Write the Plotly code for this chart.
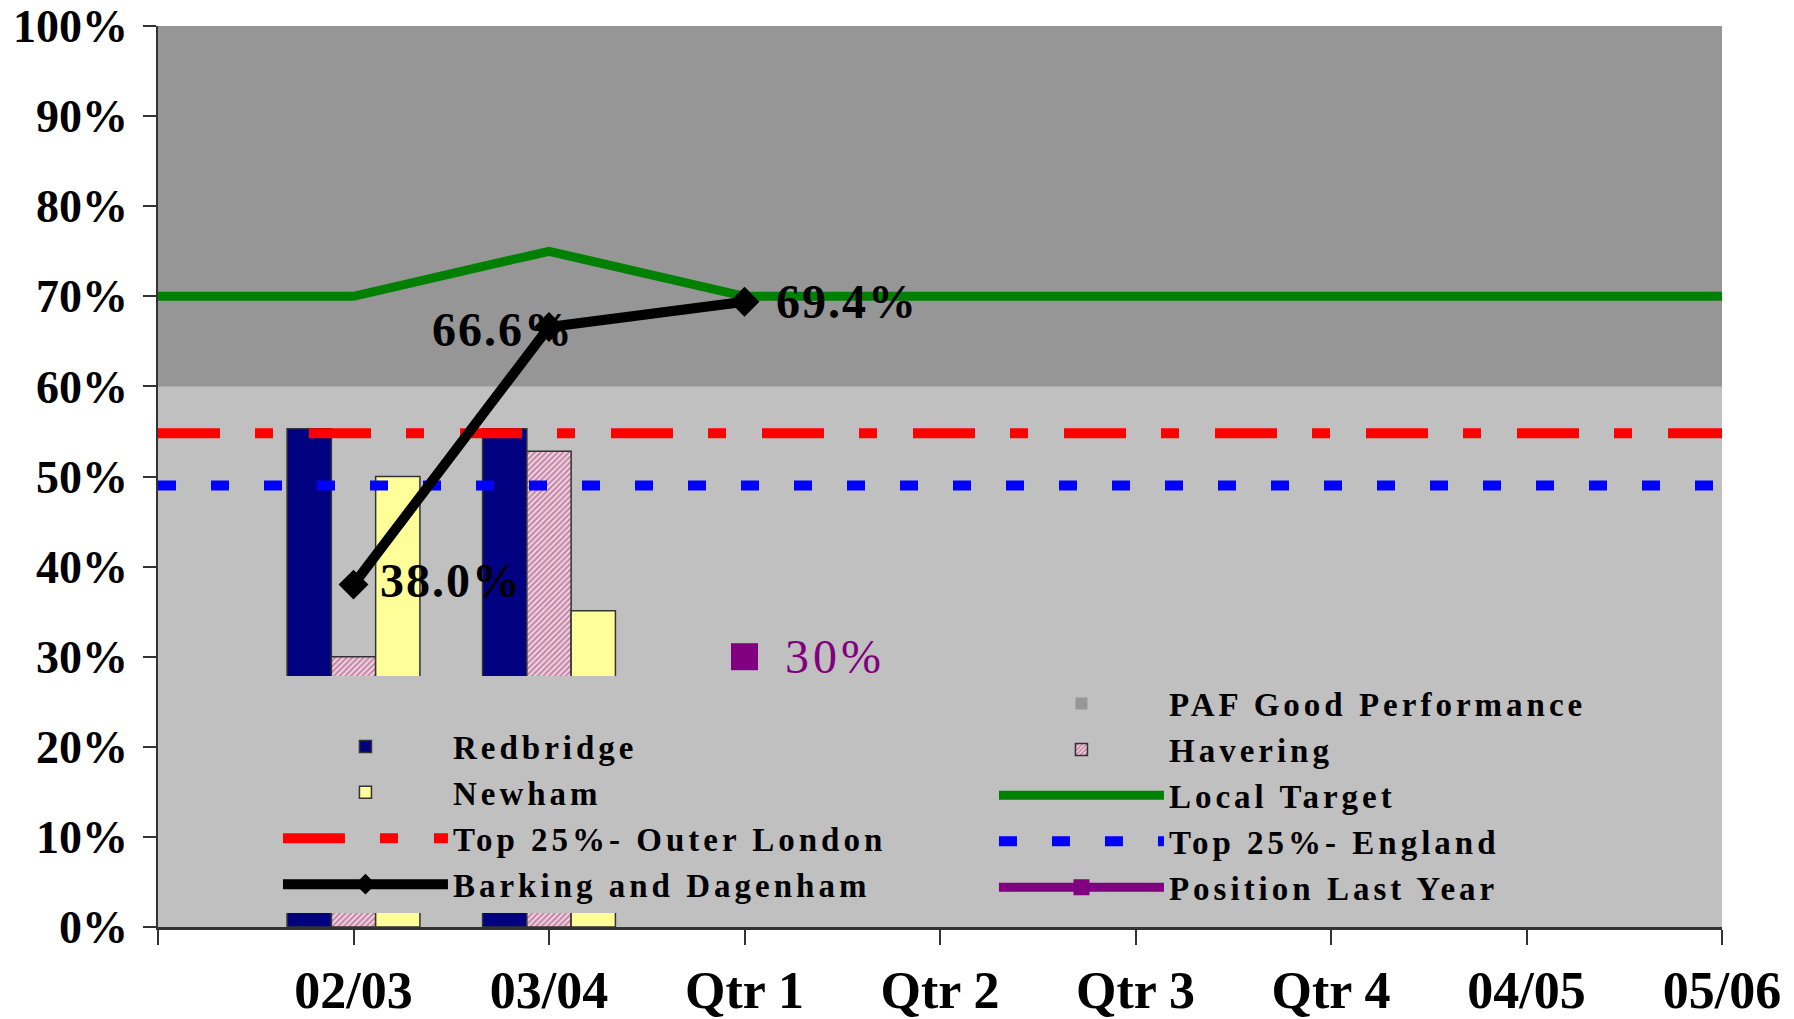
"""Barking and Dagenham indicator against neighbours, targets and PAF band."""

import plotly.graph_objects as go

# ---- data ----
periods = ["", "02/03", "03/04", "Qtr 1", "Qtr 2", "Qtr 3", "Qtr 4", "04/05", "05/06"]

redbridge = [None, 0.553, 0.553, None, None, None, None, None, None]
havering = [None, 0.300, 0.528, None, None, None, None, None, None]
newham = [None, 0.500, 0.351, None, None, None, None, None, None]

local_target = [0.70, 0.70, 0.75, 0.70, 0.70, 0.70, 0.70, 0.70, 0.70]
top25_outer_london = [0.548, 0.548, 0.548, 0.548, 0.548, 0.548, 0.548, 0.548, 0.548]
top25_england = [0.490, 0.490, 0.490, 0.490, 0.490, 0.490, 0.490, 0.490, 0.490]
barking = [None, 0.380, 0.666, 0.694, None, None, None, None, None]
last_year = [None, None, None, 0.30, None, None, None, None, None]

paf_low = 0.60
paf_high = 1.00

FONT = "Liberation Serif, Times New Roman, serif"
x = list(range(len(periods)))


def spaced(s, px=4):
    """Wide tracking like the original legend text."""
    return "<span style='letter-spacing:%dpx'>%s</span>" % (px, s)


fig = go.Figure()

# PAF good performance band (drawn first so it sits under the bars)
fig.add_trace(go.Bar(
    x=[(len(periods) - 1) / 2], y=[paf_high - paf_low], base=[paf_low],
    width=[len(periods) - 1],
    marker=dict(color="#969696", line=dict(width=0)),
    name=spaced("PAF Good Performance"), legend="legend2", legendgroup="paf",
    hoverinfo="skip"
))

bar_w = 0.2265
fig.add_trace(go.Bar(
    x=x, y=redbridge, width=bar_w, offset=-1.5 * bar_w,
    marker=dict(color="#000080", line=dict(color="#333333", width=1.5)),
    name=spaced("Redbridge"), legend="legend", legendgroup="red"
))
fig.add_trace(go.Bar(
    x=x, y=havering, width=bar_w, offset=-0.5 * bar_w,
    marker=dict(color="#FFFFFF", line=dict(color="#333333", width=1.5),
                pattern=dict(shape="/", fgcolor="#993366", bgcolor="#F4E0EA",
                             size=4, solidity=0.6)),
    name=spaced("Havering"), legend="legend2", legendgroup="hav"
))
fig.add_trace(go.Bar(
    x=x, y=newham, width=bar_w, offset=0.5 * bar_w,
    marker=dict(color="#FFFF99", line=dict(color="#333333", width=1.5)),
    name=spaced("Newham"), legend="legend", legendgroup="new"
))

fig.add_trace(go.Scatter(
    x=x, y=local_target, mode="lines",
    line=dict(color="#008000", width=9),
    name=spaced("Local Target"), legend="legend2", legendgroup="lt"
))
fig.add_trace(go.Scatter(
    x=x, y=top25_outer_london, mode="lines",
    line=dict(color="#FF0000", width=10, dash="62px,35px,18px,36px"),
    name=spaced("Top 25%- Outer London"), legend="legend", legendgroup="tol"
))
fig.add_trace(go.Scatter(
    x=x, y=top25_england, mode="lines",
    line=dict(color="#0000FF", width=10, dash="18px,35px"),
    name=spaced("Top 25%- England"), legend="legend2", legendgroup="te"
))
fig.add_trace(go.Scatter(
    x=x, y=barking, mode="lines+markers",
    line=dict(color="#000000", width=10),
    marker=dict(symbol="diamond", size=23, color="#000000"),
    name=spaced("Barking and Dagenham"), legend="legend", legendgroup="bd"
))
fig.add_trace(go.Scatter(
    x=x, y=last_year, mode="lines+markers",
    line=dict(color="#800080", width=9),
    marker=dict(symbol="square", size=27, color="#800080"),
    name=spaced("Position Last Year"), legend="legend2", legendgroup="ly"
))

# value labels
label_style = [None, ("left", 24, 4), ("center", -46, -3), ("left", 29, 0)]
annotations = []
for i, v in enumerate(barking):
    if v is None:
        continue
    anchor, dx, dy = label_style[i]
    annotations.append(dict(
        x=x[i], y=v, text=spaced("%.1f%%" % (v * 100), 2), showarrow=False,
        xanchor=anchor, yanchor="middle", xshift=dx, yshift=dy,
        font=dict(family=FONT, size=48, color="#000000", weight="bold")
    ))
for i, v in enumerate(last_year):
    if v is None:
        continue
    annotations.append(dict(
        x=x[i], y=v, text=spaced("%.0f%%" % (v * 100), 4), showarrow=False,
        xanchor="left", yanchor="middle", xshift=38,
        font=dict(family=FONT, size=48, color="#800080")
    ))

legend_common = dict(
    bgcolor="#C0C0C0", borderwidth=0, orientation="v",
    xanchor="left", yanchor="top", y=0.279,
    itemwidth=165, tracegroupgap=0,
    font=dict(family=FONT, size=33, color="#000000", weight="bold"),
)

fig.update_layout(
    width=1794, height=1019,
    barmode="overlay",
    paper_bgcolor="#FFFFFF", plot_bgcolor="#C0C0C0",
    margin=dict(l=158, r=72, t=26, b=92),
    showlegend=True,
    legend=dict(x=0.0767, title=dict(text=" ", font=dict(family=FONT, size=33)),
                **legend_common),
    legend2=dict(x=0.5345, **legend_common),
    annotations=annotations,
)

fig.update_xaxes(
    range=[0, len(periods) - 1], automargin=False,
    tickmode="array", tickvals=x, ticktext=periods,
    ticks="outside", ticklen=15, tickcolor="#333333", tickwidth=1.5,
    showline=True, linecolor="#333333", linewidth=2.5,
    showgrid=False, zeroline=False,
    ticklabelstandoff=1,
    tickfont=dict(family=FONT, size=52, color="#000000", weight="bold"),
)
fig.update_yaxes(
    range=[0, 1], dtick=0.1, tickformat=".0%", automargin=False,
    ticklabeloverflow="allow",
    ticks="outside", ticklen=13, tickcolor="#333333", tickwidth=1.5,
    showline=True, linecolor="#333333", linewidth=1.5,
    showgrid=False, zeroline=False,
    ticklabelstandoff=6,
    tickfont=dict(family=FONT, size=46, color="#000000", weight="bold"),
)

# drop the browser's default 8px page margin so the figure fills the window
fig.write_html("out.html", config={"displayModeBar": False},
               post_script="document.body.style.margin = '0';")
